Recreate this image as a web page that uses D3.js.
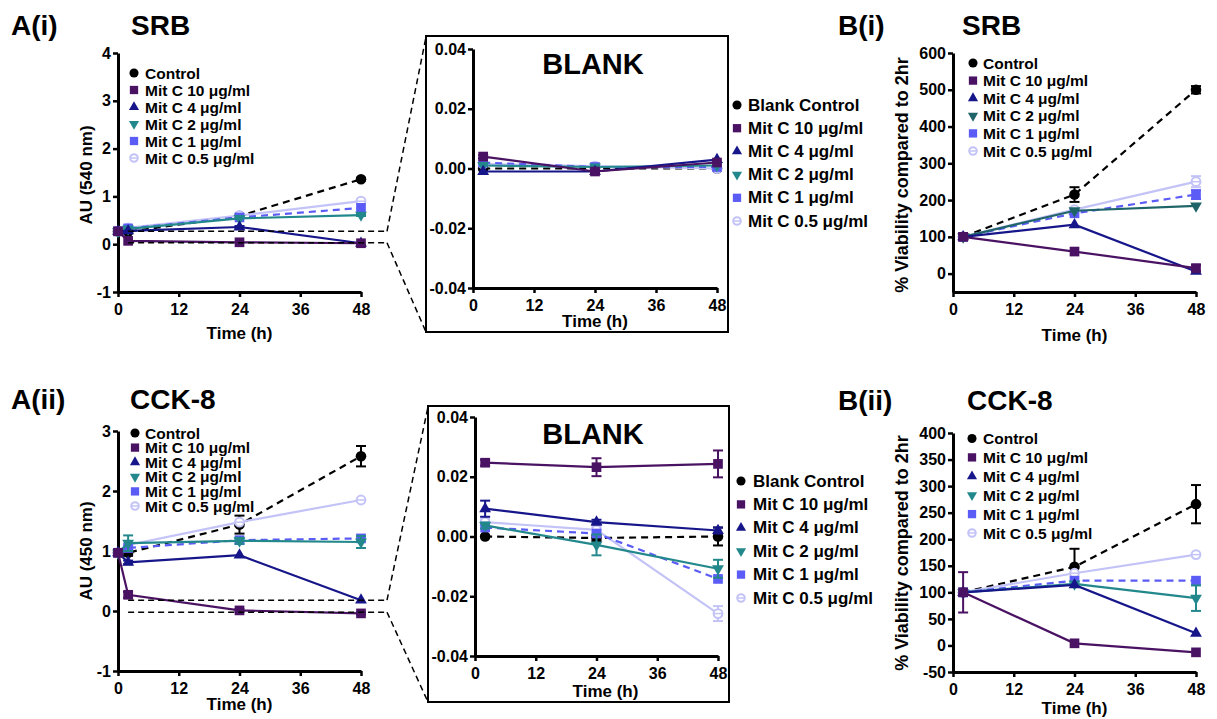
<!DOCTYPE html>
<html>
<head>
<meta charset="utf-8">
<script src="https://cdn.jsdelivr.net/npm/d3@7"></script>
<style>
  body { margin: 0; background: #fff; }
  text { font-family: "Liberation Sans", Arial, sans-serif; font-weight: bold; fill: #000; }
</style>
</head>
<body>
<svg id="fig" width="1217" height="719"></svg>
<script>
// ---- data ----
const timesFull = [0, 2, 24, 48];
const timesPost = [2, 24, 48];
const xTicks = [0, 12, 24, 36, 48];

const seriesNames = ['Control', 'Mit C 10 μg/ml', 'Mit C 4 μg/ml', 'Mit C 2 μg/ml', 'Mit C 1 μg/ml', 'Mit C 0.5 μg/ml'];
const blankNames = ['Blank Control', 'Mit C 10 μg/ml', 'Mit C 4 μg/ml', 'Mit C 2 μg/ml', 'Mit C 1 μg/ml', 'Mit C 0.5 μg/ml'];

// A(i) SRB, AU 540 nm, times 0/2/24/48
const srbAU = [
  [0.27, 0.26, 0.59, 1.36],
  [0.27, 0.07, 0.04, 0.02],
  [0.27, 0.28, 0.36, 0.02],
  [0.27, 0.32, 0.54, 0.61],
  [0.27, 0.33, 0.56, 0.76],
  [0.27, 0.34, 0.60, 0.90]
];
const srbAUErr = [
  [0, 0, 0.03, 0.03], [0, 0, 0, 0], [0, 0, 0.02, 0], [0, 0, 0, 0.02], [0, 0, 0, 0], [0, 0, 0, 0.03]
];

// A(i) inset, SRB blank, times 2/24/48
const srbBlank = [
  [0, 0, 0],
  [0.004, -0.001, 0.002],
  [-0.001, -0.001, 0.003],
  [0.001, 0.0005, 0.001],
  [0.002, 0.0005, 0.0005],
  [0.0015, 0.0008, 0.0]
];
const srbBlankErr = [
  [0, 0, 0], [0.0005, 0.0005, 0], [0, 0, 0], [0, 0, 0], [0, 0, 0], [0, 0, 0]
];

// B(i) SRB % viability, times 2/24/48
const srbViab = [
  [100, 215, 500],
  [100, 60, 15],
  [100, 133, 6],
  [100, 171, 184],
  [100, 164, 215],
  [100, 174, 250]
];
const srbViabErr = [
  [0, 20, 10], [8, 0, 8], [0, 0, 0], [0, 0, 0], [0, 0, 12], [0, 0, 15]
];

// A(ii) CCK-8, AU 450 nm, times 0/2/24/48
const cckAU = [
  [0.97, 0.97, 1.44, 2.58],
  [0.97, 0.27, 0.01, -0.04],
  [0.97, 0.81, 0.93, 0.18],
  [0.97, 1.13, 1.17, 1.15],
  [0.97, 1.05, 1.18, 1.21],
  [0.97, 1.10, 1.48, 1.85]
];
const cckAUErr = [
  [0.02, 0.05, 0.15, 0.17], [0, 0.05, 0.02, 0.02], [0, 0.03, 0, 0], [0, 0.13, 0.05, 0.1], [0, 0, 0, 0], [0, 0, 0, 0]
];

// A(ii) inset, CCK-8 blank, times 2/24/48
const cckBlank = [
  [0, -0.0005, 0],
  [0.0247, 0.0232, 0.0243],
  [0.0093, 0.0048, 0.002],
  [0.0037, -0.0028, -0.0108],
  [0.003, 0.001, -0.0142],
  [0.0048, 0.0022, -0.0258]
];
const cckBlankErr = [
  [0, 0.001, 0.003], [0.001, 0.003, 0.0045], [0.0027, 0.0008, 0.001], [0.001, 0.0035, 0.003], [0, 0, 0], [0.001, 0.001, 0.0025]
];

// B(ii) CCK-8 % viability, times 2/24/48
const cckViab = [
  [100, 148, 266],
  [100, 4, -13],
  [100, 114, 23],
  [100, 116, 89],
  [100, 122, 122],
  [100, 136, 171]
];
const cckViabErr = [
  [0, 34, 36], [38, 0, 0], [0, 0, 0], [0, 0, 24], [0, 0, 0], [0, 0, 0]
];

// ---- styles ----
const seriesColors = ['#000000', '#4a1262', '#16168a', '#23888c', '#5b5bf6', '#c3c3f7'];
const seriesShapes = ['circle', 'square', 'triangle', 'triangleDown', 'square', 'circleBar'];
const seriesDashed = [true, false, false, false, true, false];
const drawOrder = [0, 5, 4, 3, 2, 1];

const svg = d3.select('#fig');

function drawMarker(g, shape, cx, cy, s, color) {
  if (shape === 'circleBar') {
    g.append('circle').attr('cx', cx).attr('cy', cy).attr('r', s * 0.42)
      .attr('fill', '#fff').attr('stroke', color).attr('stroke-width', 2);
    g.append('line').attr('x1', cx - s * 0.42).attr('x2', cx + s * 0.42)
      .attr('y1', cy).attr('y2', cy).attr('stroke', color).attr('stroke-width', 1.5);
    return;
  }
  let type = d3.symbolCircle, area = s * s * 0.8, rot = 0;
  if (shape === 'square') { type = d3.symbolSquare; area = s * s * 0.85; }
  if (shape === 'triangle' || shape === 'triangleDown') { type = d3.symbolTriangle; area = s * s * 0.55; }
  if (shape === 'triangleDown') rot = 180;
  g.append('path')
    .attr('d', d3.symbol().type(type).size(area)())
    .attr('transform', `translate(${cx},${cy}) rotate(${rot})`)
    .attr('fill', color);
}

function drawPanel(p) {
  const g = svg.append('g');
  const x = d3.scaleLinear().domain([0, 48]).range([p.x0, p.x1]);
  const y = d3.scaleLinear().domain(p.yDomain).range([p.yBot, p.yTop]);

  const yAxis = g.append('g')
    .attr('transform', `translate(${p.x0},0)`)
    .call(d3.axisLeft(y).tickValues(p.yTicks).tickFormat(p.fmt).tickSize(5).tickPadding(2).tickSizeOuter(0));
  const xAxis = g.append('g')
    .attr('transform', `translate(0,${p.yBot})`)
    .call(d3.axisBottom(x).tickValues(xTicks).tickSize(5).tickPadding(7).tickSizeOuter(0));
  [yAxis, xAxis].forEach(a => {
    a.select('.domain').attr('stroke', '#000').attr('stroke-width', 3);
    a.selectAll('.tick line').attr('stroke', '#000').attr('stroke-width', 2.5);
    a.selectAll('.tick text').style('font-size', p.tickFont + 'px').attr('fill', '#000');
  });

  // series
  const plot = g.append('g');
  drawOrder.forEach(si => {
    const vals = p.values[si];
    const errs = p.errs[si];
    const color = (p.colors && p.colors[si]) || seriesColors[si];
    const line = d3.line().x((d, i) => x(p.times[i])).y(d => y(d));
    plot.append('path')
      .datum(vals)
      .attr('d', line)
      .attr('fill', 'none')
      .attr('stroke', color)
      .attr('stroke-width', 2.2)
      .attr('stroke-dasharray', seriesDashed[si] ? '7,5' : null);
    vals.forEach((v, i) => {
      const e = errs[i];
      const cx = x(p.times[i]);
      if (e > 0) {
        plot.append('line').attr('x1', cx).attr('x2', cx).attr('y1', y(v - e)).attr('y2', y(v + e))
          .attr('stroke', color).attr('stroke-width', 2);
        [v - e, v + e].forEach(ev => {
          plot.append('line').attr('x1', cx - 5).attr('x2', cx + 5).attr('y1', y(ev)).attr('y2', y(ev))
            .attr('stroke', color).attr('stroke-width', 2);
        });
      }
      drawMarker(plot, seriesShapes[si], cx, y(v), 10.5, color);
    });
  });

  // legend
  const lg = g.append('g');
  p.names.forEach((name, i) => {
    const ly = p.legend.y + i * p.legend.step;
    const color = (p.colors && p.colors[i]) || seriesColors[i];
    drawMarker(lg, seriesShapes[i], p.legend.x, ly, 9, color);
    lg.append('text')
      .attr('x', p.legend.tx)
      .attr('y', ly)
      .attr('dominant-baseline', 'central')
      .style('font-size', p.legend.font + 'px')
      .text(name);
  });

  // axis titles
  g.append('text')
    .attr('x', x(24) + (p.xTitleShift || 0))
    .attr('y', p.xTitleY)
    .attr('text-anchor', 'middle')
    .style('font-size', '17px')
    .text('Time (h)');
  if (p.yTitle) {
    g.append('text')
      .attr('transform', `translate(${p.yTitle.x},${p.yTitle.y}) rotate(-90)`)
      .attr('text-anchor', 'middle')
      .attr('dominant-baseline', 'central')
      .style('font-size', p.yTitle.font + 'px')
      .text(p.yTitle.text);
  }
  return { x, y };
}

function drawInsetBox(x0, y0, x1, y1, title, tx, ty) {
  svg.append('rect')
    .attr('x', x0).attr('y', y0).attr('width', x1 - x0).attr('height', y1 - y0)
    .attr('fill', 'none').attr('stroke', '#000').attr('stroke-width', 2);
  svg.append('text')
    .attr('x', tx).attr('y', ty).attr('text-anchor', 'middle')
    .style('font-size', '29px').text(title);
}

function drawZoomGuides(sc, lo, hi, box) {
  const xs = sc.x(2), xe = sc.x(48) + 26;
  const dash = '6,4';
  const gz = svg.append('g').attr('stroke', '#000').attr('stroke-width', 1.5)
    .attr('stroke-dasharray', dash).attr('fill', 'none');
  gz.append('line').attr('x1', xs).attr('x2', xe).attr('y1', sc.y(hi)).attr('y2', sc.y(hi));
  gz.append('line').attr('x1', xs).attr('x2', xe).attr('y1', sc.y(lo)).attr('y2', sc.y(lo));
  gz.append('line').attr('x1', xe).attr('y1', sc.y(hi)).attr('x2', box.x).attr('y2', box.top);
  gz.append('line').attr('x1', xe).attr('y1', sc.y(lo)).attr('x2', box.x).attr('y2', box.bottom);
}

function title(txt, x, y) {
  svg.append('text').attr('x', x).attr('y', y).style('font-size', '28px').text(txt);
}

// plain hyphen for negatives, as in the original
const fmtInt = d => String(d);
const fmtBlank = d => d.toFixed(2);

// ---- top row ----
title('A(i)', 11, 35);
title('SRB', 131, 35);
title('B(i)', 838, 35);
title('SRB', 962, 35);

const srbScales = drawPanel({
  x0: 118, x1: 361, yTop: 53, yBot: 292, yDomain: [-1, 4], yTicks: [-1, 0, 1, 2, 3, 4], fmt: fmtInt,
  times: timesFull, values: srbAU, errs: srbAUErr, names: seriesNames, tickFont: 16,
  legend: { x: 134, tx: 145, y: 73, step: 17, font: 15.5 },
  xTitleY: 339, yTitle: { text: 'AU (540 nm)', x: 86, y: 175, font: 17 }
});
drawInsetBox(426, 36, 728, 332, 'BLANK', 593, 74);
drawZoomGuides(srbScales, 0.03, 0.27, { x: 426, top: 37, bottom: 332 });
drawPanel({
  x0: 473, x1: 717, yTop: 49, yBot: 288, yDomain: [-0.04, 0.04], yTicks: [-0.04, -0.02, 0, 0.02, 0.04], fmt: fmtBlank,
  times: timesPost, values: srbBlank, errs: srbBlankErr, names: blankNames, tickFont: 16,
  legend: { x: 737, tx: 748, y: 105, step: 23.2, font: 17 },
  xTitleY: 327, yTitle: null
});
drawPanel({
  x0: 953, x1: 1196, yTop: 53, yBot: 292, yDomain: [-50, 600], yTicks: [0, 100, 200, 300, 400, 500, 600], fmt: fmtInt,
  times: timesPost, values: srbViab, errs: srbViabErr, names: seriesNames, tickFont: 16,
  colors: [null, null, null, '#1e6468', null, null],
  legend: { x: 973, tx: 983, y: 63, step: 17.6, font: 15.5 },
  xTitleY: 341, yTitle: { text: '% Viability compared to 2hr', x: 902, y: 175, font: 18 }
});

// ---- bottom row ----
title('A(ii)', 11, 409);
title('CCK-8', 130, 409);
title('B(ii)', 838, 410);
title('CCK-8', 967, 410);

const cckScales = drawPanel({
  x0: 118, x1: 361, yTop: 431, yBot: 671, yDomain: [-1, 3], yTicks: [-1, 0, 1, 2, 3], fmt: fmtInt,
  times: timesFull, values: cckAU, errs: cckAUErr, names: seriesNames, tickFont: 16,
  legend: { x: 135, tx: 145, y: 433, step: 14.6, font: 15.5 },
  xTitleY: 710, yTitle: { text: 'AU (450 nm)', x: 86, y: 551, font: 17 }
});
drawInsetBox(428, 406, 729, 702, 'BLANK', 593, 444);
drawZoomGuides(cckScales, -0.02, 0.18, { x: 428, top: 407, bottom: 702 });
drawPanel({
  x0: 475, x1: 718, yTop: 417, yBot: 656, yDomain: [-0.04, 0.04], yTicks: [-0.04, -0.02, 0, 0.02, 0.04], fmt: fmtBlank,
  times: timesPost, values: cckBlank, errs: cckBlankErr, names: blankNames, tickFont: 16,
  legend: { x: 741, tx: 753, y: 481, step: 23.4, font: 17 },
  xTitleY: 697, xTitleShift: 9, yTitle: null
});
drawPanel({
  x0: 953, x1: 1196, yTop: 433, yBot: 672, yDomain: [-50, 400], yTicks: [-50, 0, 50, 100, 150, 200, 250, 300, 350, 400], fmt: fmtInt,
  times: timesPost, values: cckViab, errs: cckViabErr, names: seriesNames, tickFont: 16,
  legend: { x: 972, tx: 983, y: 438.5, step: 18.9, font: 15.5 },
  xTitleY: 714, yTitle: { text: '% Viability compared to 2hr', x: 902, y: 553, font: 18 }
});
</script>
</body>
</html>
